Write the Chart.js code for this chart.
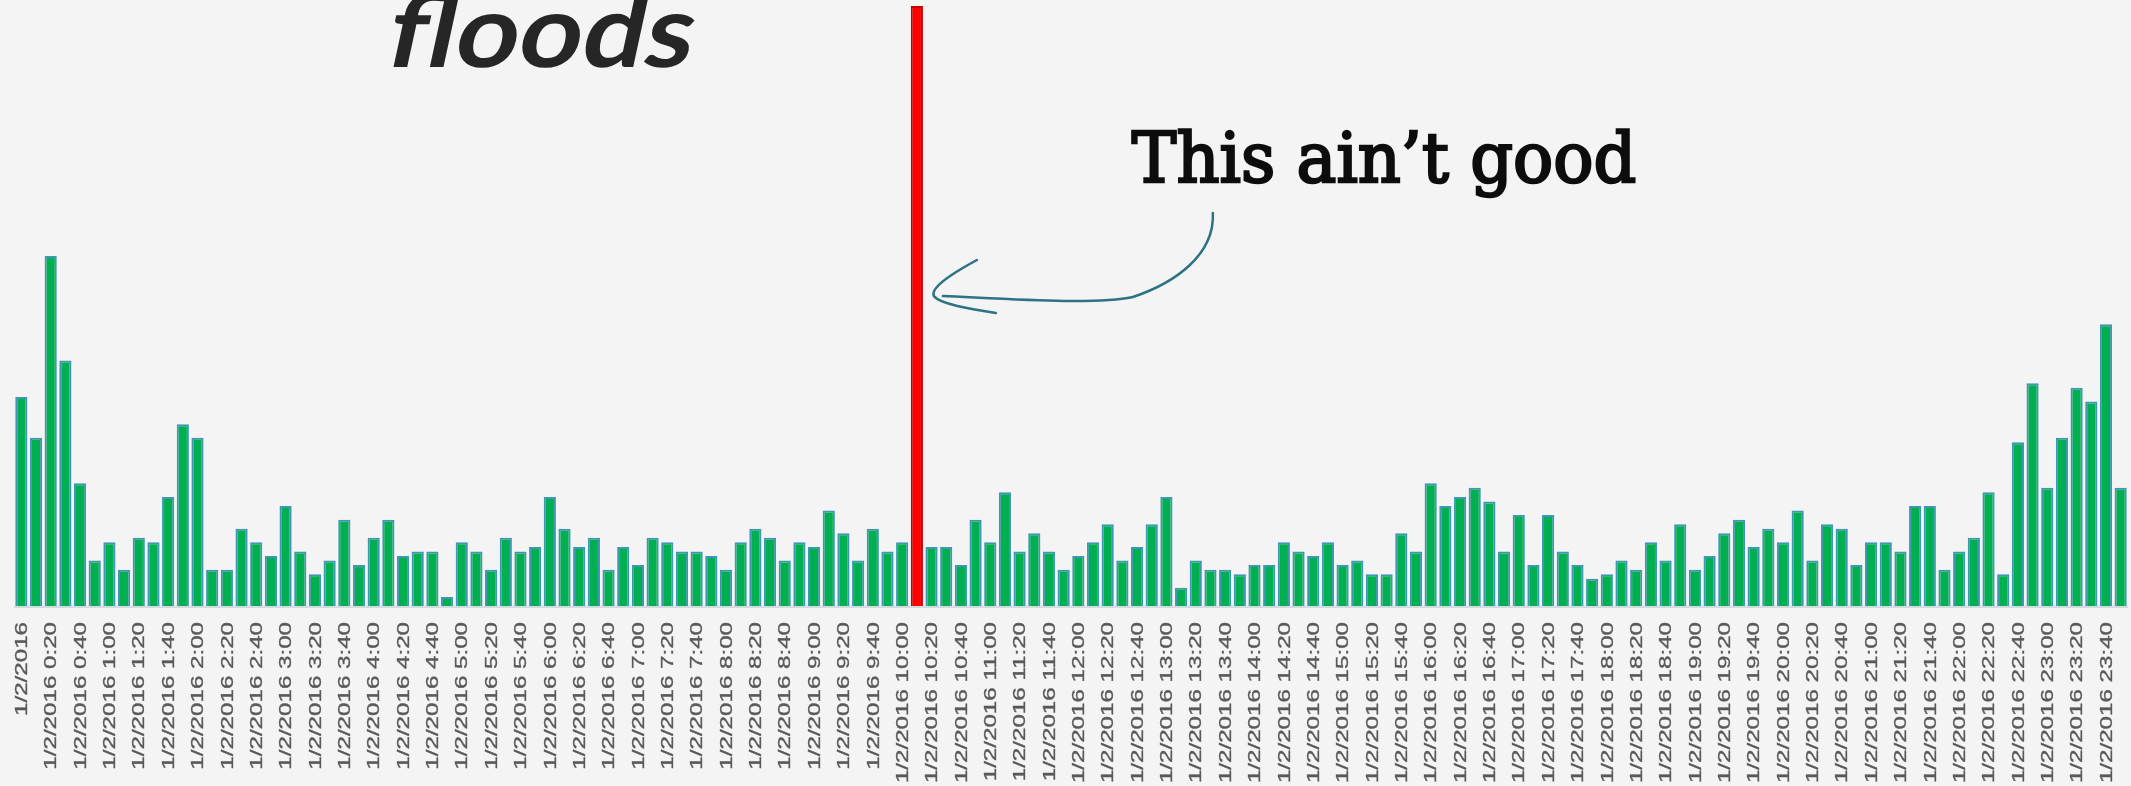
<!DOCTYPE html>
<html>
<head>
<meta charset="utf-8">
<title>floods</title>
<script src="https://cdn.jsdelivr.net/npm/chart.js@4.4.1/dist/chart.umd.min.js"></script>
<style>
  html, body { margin: 0; padding: 0; background: #f4f4f4; overflow: hidden; }
  #wrap { position: relative; width: 2131px; height: 786px; }
</style>
</head>
<body>
<div id="wrap"><canvas id="floodChart" width="2131" height="786"></canvas></div>
<script>
/* ---- data ---- */
// 10-minute buckets for 1/2/2016, 0:00 .. 23:50
const day = '1/2/2016';
const categories = [];
for (let h = 0; h < 24; h++) {
  for (let m = 0; m < 60; m += 10) {
    categories.push(h === 0 && m === 0 ? day : `${day} ${h}:${String(m).padStart(2,'0')}`);
  }
}
const labelEvery = 2;          // only every 20 min gets a tick label
const highlightIndex = 61;     // 10:10, the flood

const counts = [
  46,37,77,54,27,10,14,8,15,14,
  24,40,37,8,8,17,14,11,22,12,
  7,10,19,9,15,19,11,12,12,2,
  14,12,8,15,12,13,24,17,13,15,
  8,13,9,15,14,12,12,11,8,14,
  17,15,10,14,13,21,16,10,17,12,
  14,132,13,13,9,19,14,25,12,16,
  12,8,11,14,18,10,13,18,24,4,
  10,8,8,7,9,9,14,12,11,14,
  9,10,7,7,16,12,27,22,24,26,
  23,12,20,9,20,12,9,6,7,10,
  8,14,10,18,8,11,16,19,13,17,
  14,21,10,18,17,9,14,14,12,22,
  22,8,12,15,25,7,36,49,26,37,
  48,45,62,26
];

const titleText = 'floods';
const noteText = 'This ain\u2019t good';

/* ---- helpers ---- */
// draw text so its ink fills a given box (the source slide was stretched)
function fitText(ctx, text, o) {
  ctx.save();
  ctx.font = o.font;
  ctx.fillStyle = o.color;
  ctx.strokeStyle = o.color;
  ctx.textAlign = 'left';
  ctx.textBaseline = 'alphabetic';
  const g = ctx.measureText(o.refGlyph);
  const gh = g.actualBoundingBoxAscent + Math.max(0, g.actualBoundingBoxDescent);
  const m = ctx.measureText(text);
  const slant = o.slant || 0;
  const w = m.actualBoundingBoxLeft + m.actualBoundingBoxRight + slant * gh;
  ctx.translate(o.left, o.baseline);
  ctx.scale(o.width / w, o.height / gh);
  if (slant) ctx.transform(1, 0, -slant, 1, 0, 0);
  ctx.fillText(text, m.actualBoundingBoxLeft, 0);
  if (o.bolden) { ctx.lineWidth = o.bolden; ctx.strokeText(text, m.actualBoundingBoxLeft, 0); }
  ctx.restore();
}

const decorations = {
  id: 'decorations',
  afterDraw(chart) {
    const { ctx, chartArea, scales: { x } } = chart;

    // light base line under the bars
    ctx.save();
    ctx.strokeStyle = '#d3dbe1';
    ctx.lineWidth = 2;
    ctx.beginPath();
    ctx.moveTo(chartArea.left, chartArea.bottom + 1);
    ctx.lineTo(chartArea.right, chartArea.bottom + 1);
    ctx.stroke();
    ctx.restore();

    // rotated category labels, stretched along the text like the source
    ctx.save();
    ctx.font = '17px "Liberation Sans", Arial, sans-serif';
    ctx.fillStyle = '#595959';
    ctx.strokeStyle = '#595959';
    ctx.lineWidth = 0.35;
    ctx.textAlign = 'right';
    ctx.textBaseline = 'middle';
    categories.forEach((c, i) => {
      if (i % labelEvery) return;
      const px = x.getPixelForValue(i);
      ctx.save();
      ctx.translate(px + 1, chartArea.bottom + 16);
      ctx.rotate(-Math.PI / 2);
      ctx.scale(1.42, 1);
      ctx.fillText(c, 0, 0);
      ctx.strokeText(c, 0, 0);
      ctx.restore();
    });
    ctx.restore();

    // title, cut off at the top of the slide (oblique geometric sans)
    fitText(ctx, titleText, {
      font: '700 100px Lato, "Open Sans", sans-serif', color: '#262626',
      left: 385, baseline: 67, width: 312, refGlyph: 'o', height: 54, slant: 0.2
    });

    // annotation next to the red bar
    const rx = x.getPixelForValue(highlightIndex);
    fitText(ctx, noteText, {
      font: '60px "DejaVu Serif", serif', color: '#0d0d0d',
      left: rx + 215, baseline: 182, width: 503, refGlyph: 'T', height: 51, bolden: 2.2
    });

    // hand drawn arrow
    ctx.save();
    ctx.strokeStyle = '#2d7285';
    ctx.lineWidth = 2.5;
    ctx.lineCap = 'round';
    ctx.lineJoin = 'round';
    ctx.beginPath();
    ctx.moveTo(rx + 296, 213);
    ctx.bezierCurveTo(rx + 298, 255, rx + 258, 283, rx + 216, 297);
    ctx.bezierCurveTo(rx + 178, 305, rx + 93, 299, rx + 26, 296);
    ctx.stroke();
    ctx.beginPath();
    ctx.moveTo(rx + 60, 260);
    ctx.bezierCurveTo(rx + 38, 272, rx + 13, 287, rx + 17, 296);
    ctx.bezierCurveTo(rx + 23, 304, rx + 53, 309, rx + 79, 313);
    ctx.stroke();
    ctx.restore();
  }
};

/* ---- chart ---- */
const ctx = document.getElementById('floodChart').getContext('2d');
new Chart(ctx, {
  type: 'bar',
  data: {
    labels: categories,
    datasets: [{
      label: 'Events',
      data: counts,
      backgroundColor: counts.map((v, i) => i === highlightIndex ? '#ff0000' : '#00b050'),
      borderColor: counts.map((v, i) => i === highlightIndex ? '#c80000' : '#3f97b4'),
      borderWidth: 2,
      barPercentage: 0.83,
      categoryPercentage: 1
    }]
  },
  options: {
    responsive: false,
    animation: false,
    devicePixelRatio: 1,
    layout: { padding: { left: 14, right: 3, top: 6, bottom: 180 } },
    scales: {
      x: { display: false },
      y: { display: false, min: 0, max: 132 }
    },
    plugins: { legend: { display: false }, tooltip: { enabled: false } }
  },
  plugins: [decorations]
});
</script>
</body>
</html>
